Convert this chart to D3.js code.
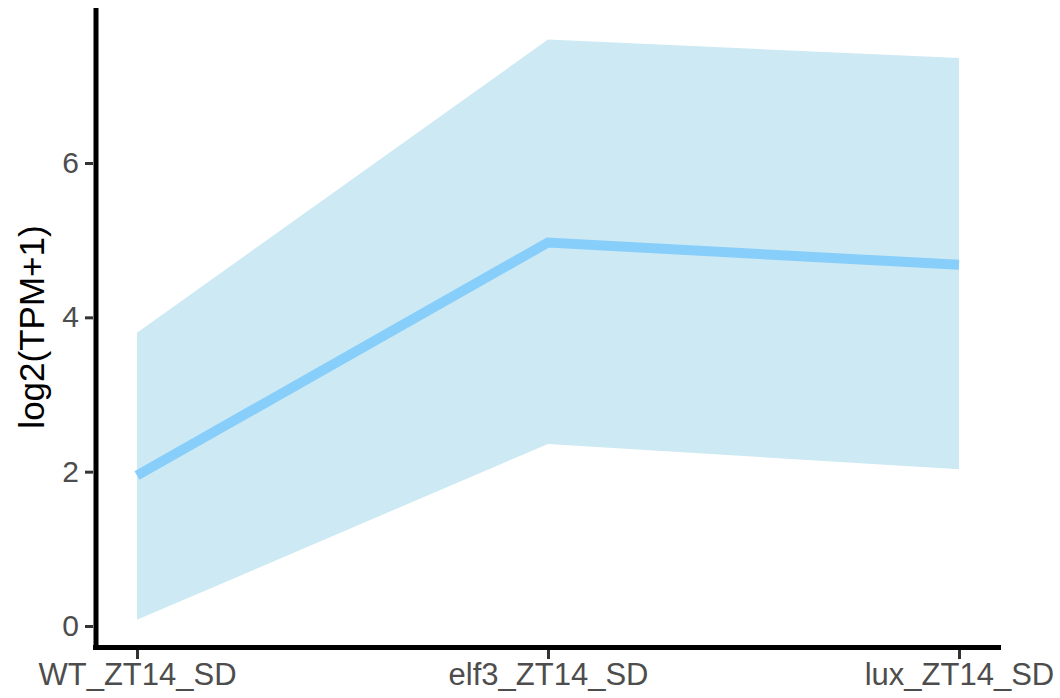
<!DOCTYPE html>
<html lang="en">
  <head>
    <meta charset="UTF-8" />
    <title>log2(TPM+1)</title>
    <style>
      body { margin: 0; background: #fff; }
      text { font-family: "Liberation Sans", Arial, sans-serif; }
    </style>
  </head>
  <body>
    <div id="chart"></div>
    <script src="https://cdn.jsdelivr.net/npm/d3@7"></script>
    <script>
      var samples = ["WT_ZT14_SD", "elf3_ZT14_SD", "lux_ZT14_SD"];
      var meanVals = [1.95, 4.97, 4.68];
      var upperVals = [3.8, 7.6, 7.36];
      var lowerVals = [0.08, 2.36, 2.03];
      var yTicks = [0, 2, 4, 6];

      var W = 1060, H = 698;

      var svg = d3.select("#chart").append("svg")
        .attr("width", W)
        .attr("height", H);

      var xScale = d3.scalePoint()
        .domain(samples)
        .range([137, 959]);
      var yScale = d3.scaleLinear()
        .domain([0, 6])
        .range([626, 163]);

      var data = samples.map(function(s, i) {
        return { s: s, m: meanVals[i], lo: lowerVals[i], hi: upperVals[i] };
      });

      // ribbon
      var area = d3.area()
        .x(function(d) { return xScale(d.s); })
        .y0(function(d) { return yScale(d.lo); })
        .y1(function(d) { return yScale(d.hi); });
      svg.append("path")
        .datum(data)
        .attr("d", area)
        .attr("fill", "#cde9f3");

      // mean line
      var line = d3.line()
        .x(function(d) { return xScale(d.s); })
        .y(function(d) { return yScale(d.m); });
      svg.append("path")
        .datum(data)
        .attr("d", line)
        .attr("fill", "none")
        .attr("stroke", "#87cefa")
        .attr("stroke-width", 10);

      // axes
      var yAxis = d3.axisLeft(yScale).tickValues(yTicks).tickFormat(d3.format("d"))
        .tickSize(8).tickPadding(6);
      var gy = svg.append("g")
        .attr("transform", "translate(93,0)")
        .call(yAxis);
      gy.select(".domain").remove();
      gy.selectAll(".tick line").attr("stroke", "#333").attr("stroke-width", 3);
      gy.selectAll(".tick text").attr("fill", "#4d4d4d").style("font-size", "30px");

      var xAxis = d3.axisBottom(xScale).tickSize(9).tickPadding(4);
      var gx = svg.append("g")
        .attr("transform", "translate(0,650)")
        .call(xAxis);
      gx.select(".domain").remove();
      gx.selectAll(".tick line").attr("stroke", "#333").attr("stroke-width", 3);
      gx.selectAll(".tick text").attr("fill", "#4d4d4d").style("font-size", "31px");

      // axis lines
      svg.append("line")
        .attr("x1", 96).attr("x2", 96)
        .attr("y1", 8).attr("y2", 650)
        .attr("stroke", "#000").attr("stroke-width", 5);
      svg.append("line")
        .attr("x1", 93).attr("x2", 1001)
        .attr("y1", 647.5).attr("y2", 647.5)
        .attr("stroke", "#000").attr("stroke-width", 5);

      svg.append("text")
        .attr("text-anchor", "middle")
        .attr("transform", "translate(44,327)rotate(-90)")
        .style("font-size", "35px")
        .attr("fill", "#000")
        .text("log2(TPM+1)");
    </script>
  </body>
</html>
